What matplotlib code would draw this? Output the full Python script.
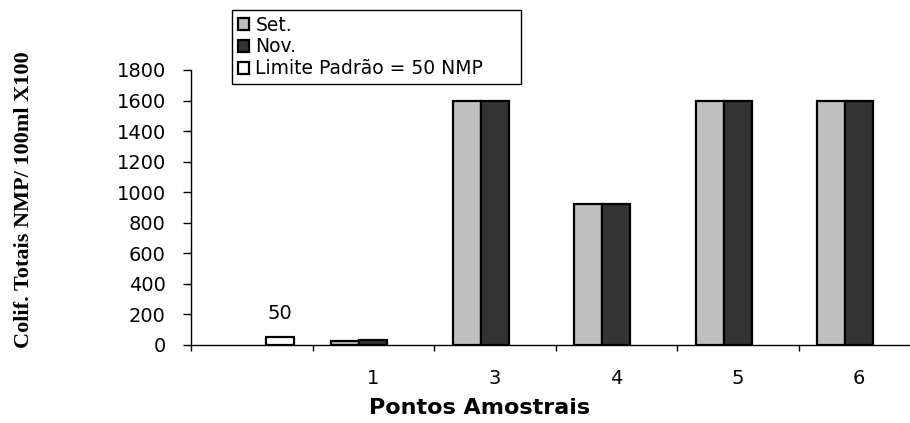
import matplotlib
matplotlib.use('Agg')
import matplotlib.pyplot as plt
import numpy as np

# sampling points and coliform counts (NMP/100ml x100)
pontos = ['', '1', '3', '4', '5', '6']
setembro = [0, 23, 1600, 920, 1600, 1600]
novembro = [0, 33, 1600, 920, 1600, 1600]
limite = [50, 0, 0, 0, 0, 0]

W, H = 910, 423
fig = plt.figure(figsize=(W / 100, H / 100), dpi=100)
ax = fig.add_axes([191 / W, 1 - 345 / H, 729 / W, 275 / H])


def nz(v):
    # empty groups get no bar outline at the baseline
    v = np.asarray(v, dtype=float)
    return np.where(v == 0, np.nan, v)


x = np.arange(len(pontos))
bw = 0.23
kw = dict(width=bw, edgecolor='black', linewidth=1.6)
b_set = ax.bar(x - bw, nz(setembro), color='#c0c0c0', label='Set.', **kw)
b_nov = ax.bar(x, nz(novembro), color='#333333', label='Nov.', **kw)
b_lim = ax.bar(x + bw, nz(limite), color='white',
               label='Limite Padrão = 50 NMP', **kw)

# value label over the standard limit bar
ax.text(x[0] + bw, limite[0] + 95, str(limite[0]), ha='center', va='bottom',
        fontsize=14, family='DejaVu Sans')

ax.set_xlim(-0.5, len(pontos) - 0.5)
ax.set_ylim(0, 1800)
ax.set_yticks(np.arange(0, 1801, 200))
ax.set_xticks(x)
ax.set_xticklabels(pontos)
ax.set_xticks(np.arange(-0.5, len(pontos), 1), minor=True)

for s in ['top', 'right']:
    ax.spines[s].set_visible(False)
ax.spines['left'].set_linewidth(1.0)
ax.spines['bottom'].set_linewidth(1.0)

ax.tick_params(axis='y', direction='out', length=6, width=1, pad=12,
               labelsize=14)
ax.tick_params(axis='x', which='major', length=0, pad=17, labelsize=14)
ax.tick_params(axis='x', which='minor', direction='out', length=4, width=1)
for lab in ax.get_xticklabels() + ax.get_yticklabels():
    lab.set_family('DejaVu Sans')

fig.text(480 / W, 1 - 408 / H, 'Pontos Amostrais', ha='center', va='center',
         fontsize=16, fontweight='bold', family='DejaVu Sans')
fig.text(24 / W, 1 - 200 / H, 'Colif. Totais NMP/ 100ml X100', rotation=90,
         ha='center', va='center', fontsize=16, fontweight='bold',
         family='Liberation Serif')

leg = fig.legend(handles=[b_set, b_nov, b_lim],
                 loc='upper left',
                 bbox_to_anchor=(232 / W, 1 - 84 / H, 289 / W, 74 / H),
                 mode='expand', borderaxespad=0, fancybox=False,
                 framealpha=1, edgecolor='black', handlelength=0.6,
                 handleheight=0.6, handletextpad=0.35, labelspacing=0.15,
                 borderpad=0.3,
                 prop={'family': 'DejaVu Sans', 'size': 13.5})
leg.get_frame().set_linewidth(1.0)

fig.savefig('out.png', dpi=100, facecolor='white')
